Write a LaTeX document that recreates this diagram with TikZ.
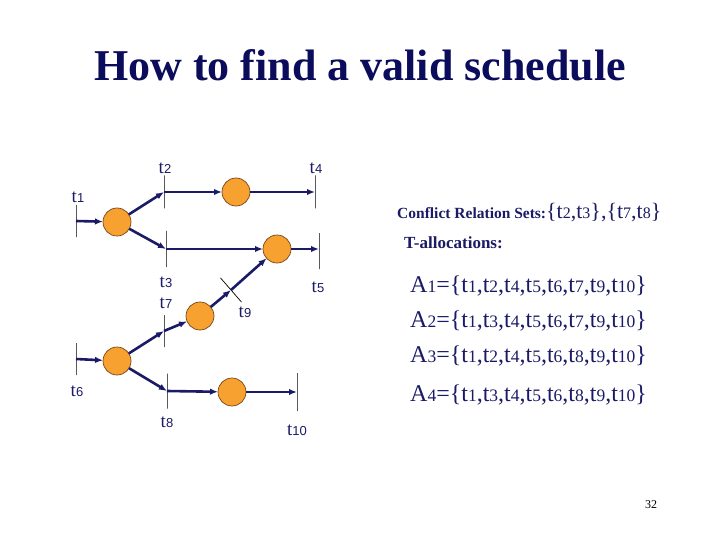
\documentclass[tikz,border=0pt]{standalone}
\usepackage{fontspec}
\setmainfont{Liberation Serif}
\setsansfont{Liberation Sans}
\usetikzlibrary{positioning, arrows.meta}

\definecolor{netblue}{RGB}{26,26,102}
\definecolor{titleblue}{RGB}{12,12,92}
\definecolor{tokenorange}{RGB}{246,161,48}
\definecolor{tokenrim}{RGB}{120,70,25}

% transition label: serif t, small sans digits
\newcommand{\tlab}[1]{{\fontsize{19}{19}\selectfont t}{\sffamily\fontsize{13}{13}\selectfont #1}}
% small digits inside the sets
\newcommand{\dg}[1]{{\fontsize{17.5}{17.5}\selectfont #1}}
\newcommand{\cdg}[1]{{\fontsize{16}{16}\selectfont #1}}

\begin{document}
\begin{tikzpicture}[
    x=1pt, y=-1pt,
    >={Latex[length=8pt,width=6.5pt]},
    place/.style={
        draw=tokenrim,
        line width=0.7pt,
        fill=tokenorange,
        circle,
        minimum size=28pt,
        inner sep=0pt,
        outer sep=0pt
    },
    trans/.style={
        draw=black,
        line width=0.7pt,
        rectangle,
        minimum width=0pt,
        minimum height=#1,
        inner sep=0pt,
        outer sep=0pt
    },
    trans/.default=33pt,
    tname/.style={text=netblue, inner sep=0pt},
    flow/.style={netblue, line width=2.6pt}
]
\useasboundingbox (0,0) rectangle (720,540);

\node[text=titleblue, font=\bfseries\fontsize{44}{44}\selectfont] (title) at (360,65) {How to find a valid schedule};

% upper net
\node[trans=32pt] (t1) at (76,221) {};
\node[place] (p1) at (117,222) {};
\node[trans] (t2) at (164,192) {};
\node[place] (p2) at (236,192) {};
\node[trans] (t4) at (315,192) {};
\node[trans=36pt] (t3) at (166,249) {};
\node[place] (p3) at (277,249) {};
\node[trans=36pt] (t5) at (319,251) {};

% lower net
\node[trans=32pt] (t6) at (76,359) {};
\node[place] (p5) at (117,361) {};
\node[trans=32pt] (t7) at (164,331) {};
\node[place] (p4) at (200,316) {};
\node[trans=32pt, rotate=41] (t9) at (231,290) {};
\node[trans=35pt] (t8) at (167,391) {};
\node[place] (p6) at (232,392) {};
\node[trans=38pt] (t10) at (297,392) {};

% transition names
\node[tname] (lt1) at (78,197) {\tlab{1}};
\node[tname] (lt2) at (165,168) {\tlab{2}};
\node[tname] (lt4) at (316,168) {\tlab{4}};
\node[tname] (lt3) at (166,282) {\tlab{3}};
\node[tname] (lt5) at (318,287) {\tlab{5}};
\node[tname] (lt7) at (166,303) {\tlab{7}};
\node[tname] (lt9) at (245,312) {\tlab{9}};
\node[tname] (lt6) at (77,391) {\tlab{6}};
\node[tname] (lt8) at (167,422) {\tlab{8}};
\node[tname] (lt10) at (297,430) {\tlab{10}};

% arcs
\path[->, flow]
(t1) edge (p1)
(p1) edge (t2)
(t2) edge (p2)
(p2) edge (t4)
(p1) edge (t3)
(t3) edge (p3)
(p3) edge (t5.center |- p3)
(p4) edge (t9)
(t9) edge (p3)
(t6) edge (p5)
(p5) edge (t7)
(t7) edge (p4)
(p5) edge (t8)
(t8) edge (p6)
(p6) edge (t10);

% conflict sets and allocations
\node[anchor=west, text=netblue, inner sep=0pt, font=\fontsize{22}{22}\selectfont] (conflict) at (397,213) {{\bfseries\fontsize{15.5}{15.5}\selectfont Conflict Relation Sets:}\{t\cdg{2},t\cdg{3}\},\{t\cdg{7},t\cdg{8}\}};
\node[anchor=west, text=netblue, inner sep=0pt, font=\bfseries\fontsize{17}{17}\selectfont] (talloc) at (404,243) {T-allocations:};
\node[anchor=west, text=netblue, inner sep=0pt, font=\fontsize{24}{24}\selectfont] (a1) at (410,286) {A\dg{1}=\{t\dg{1},t\dg{2},t\dg{4},t\dg{5},t\dg{6},t\dg{7},t\dg{9},t\dg{10}\}};
\node[anchor=west, text=netblue, inner sep=0pt, font=\fontsize{24}{24}\selectfont] (a2) at (410,321) {A\dg{2}=\{t\dg{1},t\dg{3},t\dg{4},t\dg{5},t\dg{6},t\dg{7},t\dg{9},t\dg{10}\}};
\node[anchor=west, text=netblue, inner sep=0pt, font=\fontsize{24}{24}\selectfont] (a3) at (410,356) {A\dg{3}=\{t\dg{1},t\dg{2},t\dg{4},t\dg{5},t\dg{6},t\dg{8},t\dg{9},t\dg{10}\}};
\node[anchor=west, text=netblue, inner sep=0pt, font=\fontsize{24}{24}\selectfont] (a4) at (410,395) {A\dg{4}=\{t\dg{1},t\dg{3},t\dg{4},t\dg{5},t\dg{6},t\dg{8},t\dg{9},t\dg{10}\}};

\node[font=\fontsize{12}{12}\selectfont] (pageno) at (651,505) {32};
\end{tikzpicture}
\end{document}
